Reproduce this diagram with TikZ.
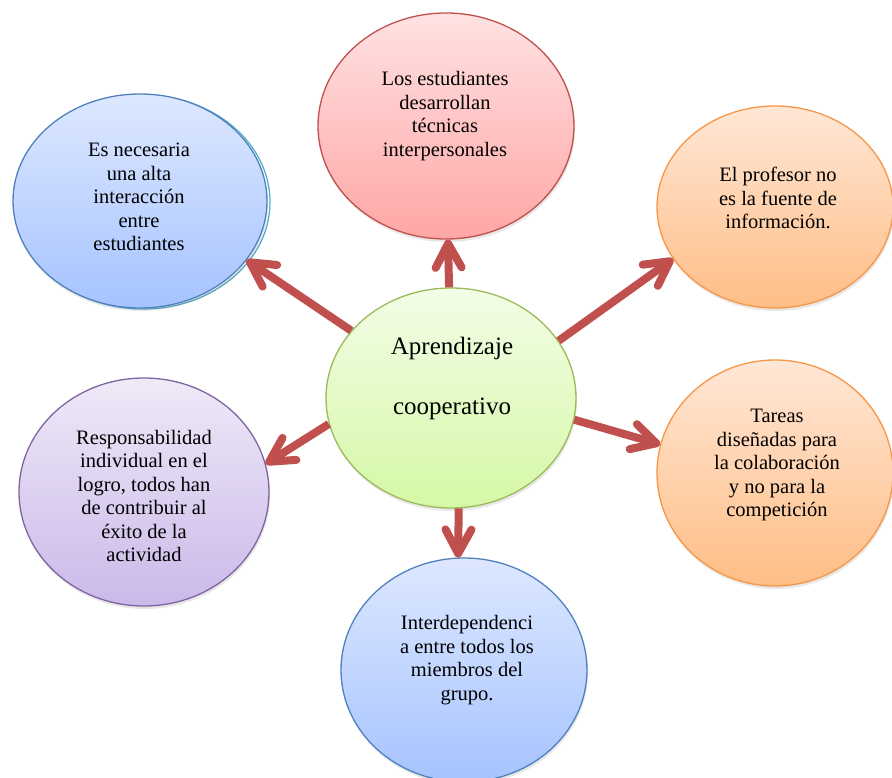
\documentclass[tikz,border=0pt]{standalone}
\usepackage{fontspec}
\setmainfont{Liberation Serif}
\usetikzlibrary{shapes.geometric,arrows.meta,shadows}
\definecolor{arrowred}{HTML}{C0504D}
\definecolor{redline}{HTML}{C0504D}
\definecolor{redtop}{HTML}{FFE2E2}
\definecolor{redbot}{HTML}{FFA6A6}
\definecolor{blueline}{HTML}{4F81BD}
\definecolor{bluetop}{HTML}{DDE8FF}
\definecolor{bluebot}{HTML}{A6C3FF}
\definecolor{tealline}{HTML}{4BACC6}
\definecolor{greenline}{HTML}{9BBB59}
\definecolor{greentop}{HTML}{F2FDE7}
\definecolor{greenbot}{HTML}{D5F8A6}
\definecolor{orangeline}{HTML}{F79646}
\definecolor{orangetop}{HTML}{FFE7D6}
\definecolor{orangebot}{HTML}{FFBE86}
\definecolor{purpleline}{HTML}{8064A2}
\definecolor{purpletop}{HTML}{EFE9F7}
\definecolor{purplebot}{HTML}{CBB9EA}
\begin{document}
\begin{tikzpicture}[x=1pt,y=-1pt,
  bubble/.style={ellipse, draw, line width=1.3pt, inner sep=0pt,
    drop shadow={shadow xshift=1pt,shadow yshift=-3pt,opacity=0.18}},
  redbub/.style={bubble, draw=redline, top color=redtop, bottom color=redbot},
  bluebub/.style={bubble, draw=blueline, top color=bluetop, bottom color=bluebot},
  greenbub/.style={bubble, draw=greenline, top color=greentop, bottom color=greenbot},
  orangebub/.style={bubble, draw=orangeline, top color=orangetop, bottom color=orangebot},
  purplebub/.style={bubble, draw=purpleline, top color=purpletop, bottom color=purplebot},
  txt/.style={align=center, inner sep=0pt, font=\fontsize{20.5}{23.5}\selectfont},
  bigtxt/.style={align=center, inner sep=0pt, font=\fontsize{25}{60}\selectfont},
  arr/.style={draw=arrowred, line width=8pt,
    -{Straight Barb[length=24pt,width=26pt,round]}}]
\path[use as bounding box] (0,0) rectangle (892,778);
\fill[white] (0,0) rectangle (892,778);
\clip (0,0) rectangle (892,778);

% bubbles
\node[ellipse, draw=tealline, line width=1.2pt, minimum width=254pt, minimum height=214pt] (tlback) at (143,202) {};
\node[bluebub, minimum width=254pt, minimum height=214pt] (tl) at (140,201) {};
\node[redbub, minimum width=256pt, minimum height=226pt] (red) at (446,126) {};
\node[orangebub, minimum width=236pt, minimum height=202pt] (tr) at (775,207) {};
\node[orangebub, minimum width=236pt, minimum height=226pt] (br) at (775,473) {};
\node[purplebub, minimum width=250pt, minimum height=228pt] (pur) at (144,492) {};
\node[bluebub, minimum width=246pt, minimum height=224pt] (bot) at (464,670) {};
\node[greenbub, minimum width=250pt, minimum height=220pt] (c) at (451,398) {};

% texts
\node[txt] (tlt) at (139,197) {Es necesaria\\una alta\\interacción\\entre\\estudiantes};
\node[txt] (redt) at (445,116) {Los estudiantes\\desarrollan\\técnicas\\interpersonales};
\node[txt] (trt) at (778,198) {El profesor no\\es la fuente de\\información.};
\node[txt] (brt) at (777,465) {Tareas\\diseñadas para\\la colaboración\\y no para la\\competición};
\node[txt] (purt) at (144,496) {Responsabilidad\\individual en el\\logro, todos han\\de contribuir al\\éxito de la\\actividad};
\node[txt] (bott) at (467,660) {Interdependenci\\a entre todos los\\miembros del\\grupo.};
\node[bigtxt] (ct) at (452,378) {Aprendizaje\\cooperativo};

% arrows
\draw[arr] (c.91) -- (red.271.5);
\draw[arr] (c.146.3) -- (tl.331);
\draw[arr] (c.28.2) -- (tr.207.6);
\draw[arr] (c.192.6) -- (pur.13.2);
\draw[arr] (c.350.8) -- (br.166.5);
\draw[arr] (c.274) -- (bot.93);
\end{tikzpicture}
\end{document}
